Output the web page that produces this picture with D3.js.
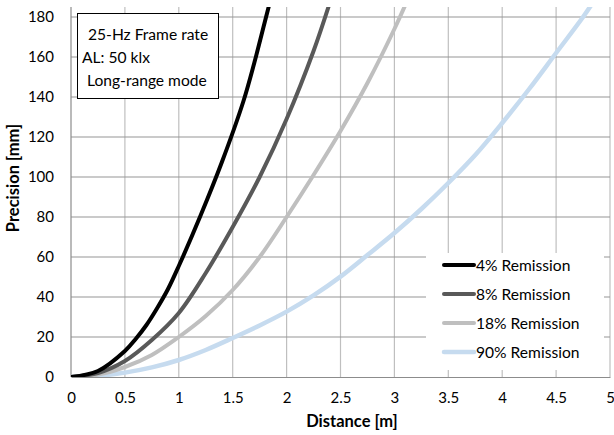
<!DOCTYPE html>
<html><head><meta charset="utf-8">
<script src="https://cdn.jsdelivr.net/npm/d3@7"></script>
<style>
html,body{margin:0;padding:0;background:#fff;}
svg{display:block;font-family:Lato,"Liberation Sans",sans-serif;}
</style></head>
<body><svg id="c" width="614" height="435"></svg>
<script>
// ---- data ----
const seriesNames = ["4% Remission","8% Remission","18% Remission","90% Remission"];
const dist4  = [0,0.25,0.5,0.6,0.7,0.8,0.9,1.0,1.2,1.4,1.6,1.7,1.8,1.9];
const prec4  = [0,3,13,19,26,34.5,44,55.5,80.5,107.5,138,157,178,199];
const dist8  = [0,0.25,0.5,0.75,1.0,1.25,1.5,1.75,2.0,2.25,2.4];
const prec8  = [0,2,8,18.5,32,52,75,100,129,163,187];
const dist18 = [0,0.25,0.5,0.75,1.0,1.25,1.5,1.75,2.0,2.25,2.5,2.75,3.0,3.15];
const prec18 = [0,1.2,5,11,20,30.5,43.5,60,80,101,123,147,174,192];
const dist90 = [0,0.25,0.5,0.75,1.0,1.25,1.5,1.75,2.0,2.25,2.5,2.75,3.0,3.25,3.5,3.75,4.0,4.25,4.5,4.75,4.9];
const prec90 = [0,0.6,2.2,4.8,8.5,13.5,19.5,25.8,32.7,40.8,50.2,61,72,84,97,111,127,144,162,180,192];
const xTicks = [0,0.5,1,1.5,2,2.5,3,3.5,4,4.5,5];
const yTicks = [0,20,40,60,80,100,120,140,160,180];
const infoLines = ["25-Hz Frame rate","AL: 50 klx","Long-range mode"];
const xTitle = "Distance [m]", yTitle = "Precision [mm]";

// ---- styles ----
const colors = ["#000000","#595959","#bfbfbf","#c6dbef"];
const widths = [4,4,4,4.5];

const svg = d3.select("#c");
const L = 71, R = 610, T = 7, B = 377;
const x = d3.scaleLinear().domain([0,5]).range([L,R]);
const y = d3.scaleLinear().domain([0,185]).range([B,T]);

// gridlines
svg.append("g").selectAll("line").data(xTicks.slice(1)).join("line")
  .attr("x1",d=>x(d)).attr("x2",d=>x(d)).attr("y1",T).attr("y2",B)
  .attr("stroke","#bfbfbf").attr("stroke-width",1.2);
svg.append("g").selectAll("line").data(yTicks.slice(1)).join("line")
  .attr("x1",L).attr("x2",R).attr("y1",d=>y(d)).attr("y2",d=>y(d))
  .attr("stroke","#969696").attr("stroke-width",1.2);

// axes
const xa = svg.append("g").attr("transform",`translate(0,${B})`)
  .call(d3.axisBottom(x).tickValues(xTicks).tickSize(0).tickPadding(15).tickFormat(d3.format("")));
xa.select(".domain").attr("stroke","#8c8c8c").attr("stroke-width",1.2);
xa.selectAll("text").attr("font-size",15).attr("fill","#000").attr("font-family","Lato");
const ya = svg.append("g").attr("transform",`translate(${L},0)`)
  .call(d3.axisLeft(y).tickValues(yTicks).tickSize(0).tickPadding(17));
ya.select(".domain").attr("stroke","#8c8c8c").attr("stroke-width",1.2).attr("d",`M0,${B}V${T}`);
ya.selectAll("text").attr("font-size",15).attr("fill","#000").attr("font-family","Lato");

// clip
svg.append("clipPath").attr("id","clip").append("rect")
  .attr("x",L).attr("y",T).attr("width",R-L).attr("height",B-T);

const series = [[dist4,prec4],[dist8,prec8],[dist18,prec18],[dist90,prec90]];
const line = d3.line().x(d=>x(d[0])).y(d=>y(d[1])).curve(d3.curveCatmullRom.alpha(0.5));
const g = svg.append("g").attr("clip-path","url(#clip)");
[3,2,1,0].forEach(i=>{
  const pts = series[i][0].map((d,j)=>[d,series[i][1][j]]);
  g.append("path").attr("d",line(pts)).attr("fill","none")
    .attr("stroke",colors[i]).attr("stroke-width",widths[i]).attr("stroke-linecap","round");
});

// legend
const lg = svg.append("g");
lg.append("rect").attr("x",426).attr("y",253).attr("width",178).attr("height",117).attr("fill","#fff");
seriesNames.forEach((n,i)=>{
  const cy = 265 + i*29;
  lg.append("line").attr("x1",444).attr("x2",474).attr("y1",cy).attr("y2",cy)
    .attr("stroke",colors[i]).attr("stroke-width",widths[i]).attr("stroke-linecap","round");
  lg.append("text").attr("x",476).attr("y",cy+5.5).attr("font-size",15.6).text(n);
});

// info box
const ib = svg.append("g");
ib.append("rect").attr("x",77.5).attr("y",13.5).attr("width",141).attr("height",85)
  .attr("fill","#fff").attr("stroke","#000").attr("stroke-width",1);
const ix = [88,82,87];
infoLines.forEach((t,i)=>{
  ib.append("text").attr("x",ix[i]).attr("y",39.5+i*23).attr("font-size",15.6).text(t);
});

// titles
svg.append("text").attr("x",352).attr("y",427).attr("text-anchor","middle")
  .attr("font-size",16.5).attr("font-weight","bold").text(xTitle);
svg.append("text").attr("transform","translate(19,178) rotate(-90)").attr("text-anchor","middle")
  .attr("font-size",16.5).attr("font-weight","bold").text(yTitle);
</script></body></html>
